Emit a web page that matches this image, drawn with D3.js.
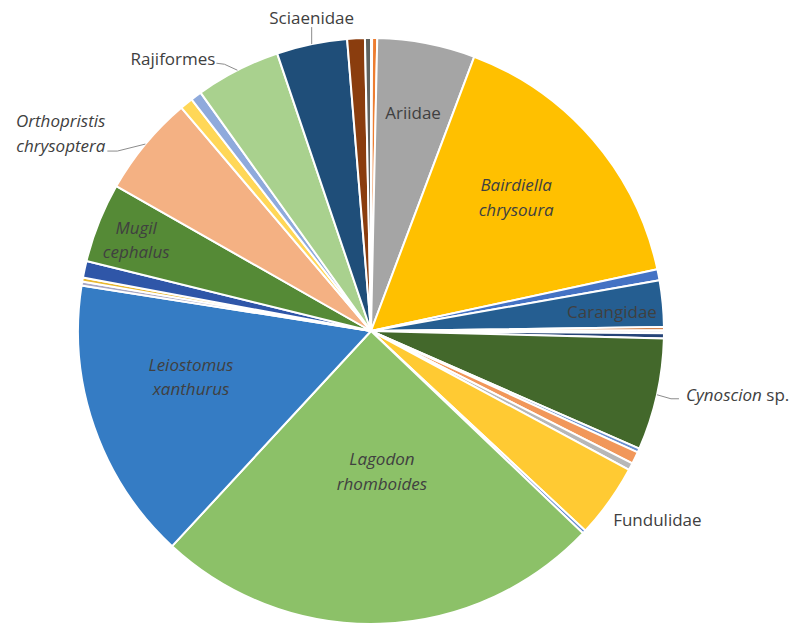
<!DOCTYPE html>
<html>
<head>
<meta charset="utf-8">
<script src="https://cdn.jsdelivr.net/npm/d3@7"></script>
<style>
  html, body { margin: 0; padding: 0; background: #ffffff; }
  svg { display: block; }
  text { font-family: "Open Sans", "Noto Sans", sans-serif; font-size: 17px; fill: #404040; }
  .leader { fill: none; stroke: #8c8c8c; stroke-width: 1; }
</style>
</head>
<body>
<svg id="chart" width="799" height="625"></svg>
<script>
// Taxa in drawing order (clockwise from 12 o'clock); unnamed entries are small unlabelled groups
const categories = [
  "", "", "Ariidae", "Bairdiella chrysoura", "", "Carangidae", "", "", "",
  "Cynoscion sp.", "", "", "", "Fundulidae", "", "Lagodon rhomboides",
  "Leiostomus xanthurus", "", "", "", "Mugil cephalus", "Orthopristis chrysoptera",
  "", "", "Rajiformes", "Sciaenidae", "", ""
];

// Share of the total catch (%)
const shares = [
  0.06, 0.28, 5.39, 15.89, 0.61, 2.56, 0.17, 0.17, 0.28,
  6.17, 0.22, 0.67, 0.39, 4.08, 0.19, 24.75,
  15.61, 0.22, 0.22, 0.92, 4.39, 5.56,
  0.72, 0.61, 4.69, 3.89, 0.97, 0.33
];

const colors = [
  "#4472C4", "#ED7D31", "#A5A5A5", "#FFC000", "#4472C4", "#255E91", "#C55A11", "#EEF1F6", "#264478",
  "#43682B", "#698ED0", "#F1975A", "#B7B7B7", "#FFCA33", "#5F86D0", "#8CC168",
  "#357CC4", "#A8A8C4", "#E8B830", "#2F56A8", "#558A36", "#F4B183",
  "#FFD757", "#8FAADC", "#A9D18E", "#1F4E79", "#8A3D0E", "#5F6360"
];

// Label placement: inside labels sit at a fraction of the radius along the slice's bisector
const insideLabels = {
  "Ariidae":              { k: 0.758, da: 0 },
  "Bairdiella chrysoura": { k: 0.673, da: -1.8 },
  "Carangidae":           { k: 0.825, da: 0.9 },
  "Lagodon rhomboides":   { k: 0.481, da: -2.65 },
  "Leiostomus xanthurus": { k: 0.634, da: 4.9 },
  "Mugil cephalus":       { k: 0.86,  da: -0.5 }
};
// Outside labels: leader points and text offset relative to the rim point of the bisector
const outsideLabels = {
  "Cynoscion sp.":            { path: [[14, 4], [22, 4]],   text: [29, 0],     anchor: "start" },
  "Fundulidae":               { path: [],                   text: [4, 18],     anchor: "start" },
  "Orthopristis chrysoptera": { path: [[-28, 7], [-38, 7]], text: [-40, -10.5], anchor: "end" },
  "Rajiformes":               { path: [[-13, -6], [-21, -7]], text: [-22, -11], anchor: "end" },
  "Sciaenidae":               { path: [[0, -17]],           text: [0, -26],    anchor: "middle" }
};

const cx = 371, cy = 331, R = 293;
const lineGap = 24.5;
const deg = Math.PI / 180;

const svg = d3.select("#chart");
const g = svg.append("g").attr("transform", `translate(${cx},${cy})`);

const data = categories.map((name, i) => ({ name, value: shares[i], color: colors[i] }));
const pie = d3.pie().sort(null).value(d => d.value).startAngle(0).endAngle(2 * Math.PI);
const arcs = pie(data);
const arc = d3.arc().innerRadius(0).outerRadius(R);

g.selectAll("path.slice")
  .data(arcs)
  .join("path")
  .attr("class", "slice")
  .attr("d", arc)
  .attr("fill", d => d.data.color)
  .attr("stroke", "#ffffff")
  .attr("stroke-width", 2)
  .attr("stroke-linejoin", "round");

function polar(a, r) { return [r * Math.sin(a), -r * Math.cos(a)]; }

// Split a taxon name into label lines made of [text, italic] segments
function labelLines(name) {
  if (name.endsWith(" sp.")) return [[[name.slice(0, -4), true], [" sp.", false]]];
  const words = name.split(" ");
  if (words.length === 2) return words.map(w => [[w, true]]);
  return [[[name, false]]];
}

function drawLabel(name, x, y, anchor) {
  const lines = labelLines(name);
  const top = y - (lines.length - 1) * lineGap / 2;
  lines.forEach((segs, li) => {
    const t = g.append("text")
      .attr("x", x)
      .attr("y", top + li * lineGap)
      .attr("dy", "0.36em")
      .attr("text-anchor", anchor);
    segs.forEach(([s, it]) => {
      t.append("tspan").attr("font-style", it ? "italic" : "normal").text(s);
    });
  });
}

arcs.forEach(a => {
  const name = a.data.name;
  if (!name) return;
  const mid = (a.startAngle + a.endAngle) / 2;
  if (insideLabels[name]) {
    const L = insideLabels[name];
    const [x, y] = polar(mid + L.da * deg, L.k * R);
    drawLabel(name, x, y, "middle");
  } else if (outsideLabels[name]) {
    const L = outsideLabels[name];
    const [ex, ey] = polar(mid, R);
    if (L.path.length) {
      const pts = [[ex, ey]].concat(L.path.map(([dx, dy]) => [ex + dx, ey + dy]));
      g.append("path").attr("class", "leader").attr("d", d3.line()(pts));
    }
    drawLabel(name, ex + L.text[0], ey + L.text[1], L.anchor);
  }
});
</script>
</body>
</html>
